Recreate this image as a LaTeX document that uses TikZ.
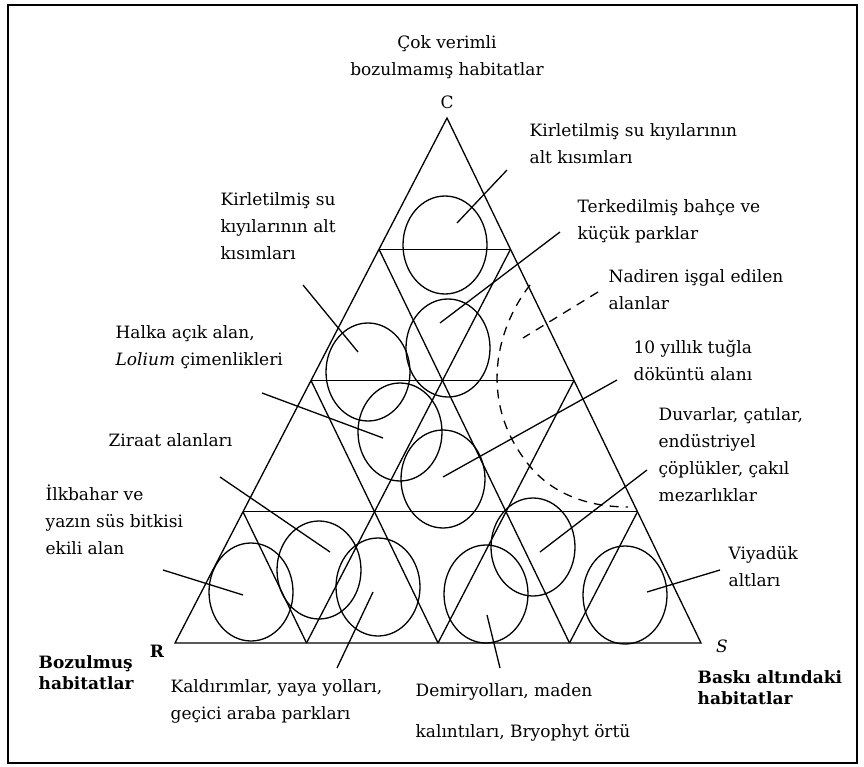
\documentclass[tikz,border=0pt]{standalone}
\usepackage{fontspec}
\setmainfont{DejaVu Serif}
\usetikzlibrary{calc}

\begin{document}
\begin{tikzpicture}[x=1pt,y=-1pt,line width=1.3pt]
	\useasboundingbox (0,0) rectangle (864,767);
	\draw[line width=2.5pt] (8,5) rectangle (857,763);
	% corners and grid
	\coordinate (C) at (447,118);
	\coordinate (R) at (175,643);
	\coordinate (S) at (701,643);
	\draw (C) -- (R) -- (S) -- cycle;
	\foreach \f in {0.25,0.5,0.75} {
		\draw ($(C)!\f!(R)$) -- ($(C)!\f!(S)$);
		\draw ($(C)!\f!(S)$) -- ($(R)!\f!(S)$);
		\draw ($(C)!\f!(R)$) -- ($(S)!\f!(R)$);
	}
	% habitat circles
	\foreach \x/\y in {445/245, 448/348, 368/372, 400/432, 443/479, 533/547,
		251/592, 319/570, 378/587, 486/594, 625/595}
		\draw (\x,\y) ellipse [x radius=42pt, y radius=49pt];
	\draw[dash pattern=on 9pt off 7pt] (530,285) .. controls (495,330) and (480,400) .. (525,460)
		.. controls (550,495) and (590,507) .. (628,507);
	\begin{scope}[every node/.style={anchor=west,align=left,inner sep=0pt,font=\fontsize{17}{27}\selectfont}]
		\node[anchor=center,align=center] (top) at (447,57) {Çok verimli\\bozulmamış habitatlar};
		\node[anchor=center] (cC) at (447,102) {C};
		\node[anchor=center] (cR) at (157,651) {\textbf{R}};
		\node[anchor=center] (cS) at (722,646) {\textit{S}};
		\node (kirA) at (529,144) {Kirletilmiş su kıyılarının\\alt kısımları};
		\node (kirB) at (220,226) {Kirletilmiş su\\kıyılarının alt\\kısımları};
		\node (terk) at (577,221) {Terkedilmiş bahçe ve\\küçük parklar};
		\node (nadir) at (608,290) {Nadiren işgal edilen\\alanlar};
		\node (tugla) at (633,360) {10 yıllık tuğla\\döküntü alanı};
		\node (halka) at (115,347) {Halka açık alan,\\\textit{Lolium} çimenlikleri};
		\node (duvar) at (658,455) {Duvarlar, çatılar,\\endüstriyel\\çöplükler, çakıl\\mezarlıklar};
		\node (ziraat) at (108,440) {Ziraat alanları};
		\node (ilkb) at (45,520) {İlkbahar ve\\yazın süs bitkisi\\ekili alan};
		\node (viyad) at (728,567) {Viyadük\\altları};
		\node[font=\fontsize{17}{21}\selectfont\bfseries] (bozul) at (38,673) {Bozulmuş\\habitatlar};
		\node (kaldir) at (170,701) {Kaldırımlar, yaya yolları,\\geçici araba parkları};
		\node (demir) at (415,712) {Demiryolları, maden\\[14pt]kalıntıları, Bryophyt örtü};
		\node[font=\fontsize{17}{21}\selectfont\bfseries] (baski) at (697,688) {Baskı altındaki\\habitatlar};
	\end{scope}
	% leader lines
	\coordinate (kirA1) at (507,170);  \coordinate (kirA2) at (457,223);
	\coordinate (kirB1) at (303,285);  \coordinate (kirB2) at (358,352);
	\coordinate (terk1) at (560,232);  \coordinate (terk2) at (440,323);
	\coordinate (nadir1) at (598,292); \coordinate (nadir2) at (523,338);
	\coordinate (tugla1) at (617,380); \coordinate (tugla2) at (443,477);
	\coordinate (halka1) at (262,393); \coordinate (halka2) at (383,438);
	\coordinate (duvar1) at (647,470); \coordinate (duvar2) at (540,552);
	\coordinate (ziraat1) at (220,477); \coordinate (ziraat2) at (330,552);
	\coordinate (ilkb1) at (163,570);  \coordinate (ilkb2) at (243,595);
	\coordinate (viyad1) at (720,570); \coordinate (viyad2) at (647,592);
	\coordinate (kaldir1) at (337,668); \coordinate (kaldir2) at (373,592);
	\coordinate (demir1) at (500,668); \coordinate (demir2) at (487,615);
	\begin{scope}[every edge/.style={draw=black,line width=1.3pt}]
		\path (kirA1) edge (kirA2);
		\path (kirB1) edge (kirB2);
		\path (terk1) edge (terk2);
		\path (nadir1) edge[dash pattern=on 9pt off 7pt] (nadir2);
		\path (tugla1) edge (tugla2);
		\path (halka1) edge (halka2);
		\path (duvar1) edge (duvar2);
		\path (ziraat1) edge (ziraat2);
		\path (ilkb1) edge (ilkb2);
		\path (viyad1) edge (viyad2);
		\path (kaldir1) edge (kaldir2);
		\path (demir1) edge (demir2);
	\end{scope}
\end{tikzpicture}
\end{document}
